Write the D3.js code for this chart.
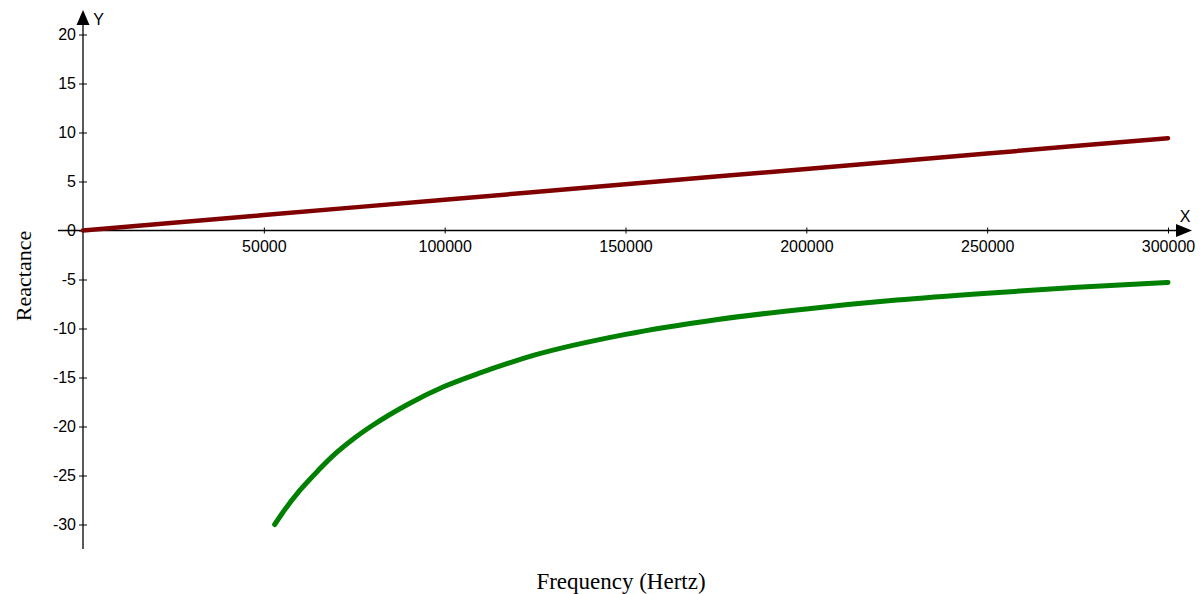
<!DOCTYPE html>
<html>
<head>
<meta charset="utf-8">
<script src="https://cdn.jsdelivr.net/npm/d3@7/dist/d3.min.js"></script>
<style>
  html, body { margin: 0; padding: 0; background: #fff; }
  svg { display: block; }
</style>
</head>
<body>
<svg id="chart" width="1200" height="594"></svg>
<script>
// ---- data ----
const inductiveFreq = [0, 25000, 50000, 75000, 100000, 125000, 150000, 175000, 200000, 225000, 250000, 275000, 300000];
const inductiveReact = [0, 0.79, 1.57, 2.36, 3.14, 3.93, 4.71, 5.50, 6.28, 7.07, 7.85, 8.64, 9.42];

const capacitiveFreq = [53000, 55000, 60000, 65000, 70000, 75000, 80000, 90000, 100000, 110000, 125000, 150000, 175000, 200000, 225000, 250000, 275000, 300000];
const capacitiveReact = [-30.0, -28.9, -26.5, -24.5, -22.7, -21.2, -19.9, -17.7, -15.9, -14.5, -12.7, -10.6, -9.1, -8.0, -7.1, -6.4, -5.8, -5.3];

const xTicks = [50000, 100000, 150000, 200000, 250000, 300000];
const yTicks = [20, 15, 10, 5, 0, -5, -10, -15, -20, -25, -30];

const xTitle = "Frequency (Hertz)";
const yTitle = "Reactance";

// ---- layout ----
const svg = d3.select("#chart");
const x = d3.scaleLinear().domain([0, 300000]).range([83, 1168]);
const y = d3.scaleLinear().domain([-30, 20]).range([524.5, 34.5]);
const x0 = x(0), y0 = y(0);

const axisFont = "'Liberation Sans', Arial, sans-serif";
const titleFont = "'Liberation Serif', 'Times New Roman', serif";
const plainFmt = d => String(d);

// X axis
const xAxisG = svg.append("g").attr("transform", `translate(0,${y0})`)
  .call(d3.axisBottom(x).tickValues(xTicks).tickSize(3).tickPadding(7).tickFormat(plainFmt));
xAxisG.select(".domain").remove();
xAxisG.selectAll(".tick line").attr("y1", -3).attr("y2", 3).attr("stroke", "#000");
xAxisG.selectAll(".tick text").style("font-family", axisFont).style("font-size", "16px").attr("fill", "#000");
svg.append("line").attr("x1", 58).attr("x2", 1178).attr("y1", y0).attr("y2", y0)
  .attr("stroke", "#000").attr("stroke-width", 1.3);
svg.append("path").attr("d", `M1192,${y0} L1176,${y0 - 6.5} L1176,${y0 + 6.5} Z`).attr("fill", "#000");
svg.append("text").attr("x", 1185).attr("y", y0 - 9).attr("text-anchor", "middle")
  .style("font-family", axisFont).style("font-size", "16px").text("X");

// Y axis
const yAxisG = svg.append("g").attr("transform", `translate(${x0},0)`)
  .call(d3.axisLeft(y).tickValues(yTicks).tickSize(4).tickPadding(3).tickFormat(plainFmt));
yAxisG.select(".domain").remove();
yAxisG.selectAll(".tick line").attr("x1", 4).attr("x2", -4).attr("stroke", "#000");
yAxisG.selectAll(".tick text").style("font-family", axisFont).style("font-size", "16px").attr("fill", "#000");
svg.append("line").attr("x1", x0).attr("x2", x0).attr("y1", 549).attr("y2", 24)
  .attr("stroke", "#000").attr("stroke-width", 1.3);
svg.append("path").attr("d", `M${x0},10 L${x0 - 6.5},25 L${x0 + 6.5},25 Z`).attr("fill", "#000");
svg.append("text").attr("x", 98.5).attr("y", 25).attr("text-anchor", "middle")
  .style("font-family", axisFont).style("font-size", "16px").text("Y");

// Titles
svg.append("text").attr("x", 621).attr("y", 589).attr("text-anchor", "middle")
  .style("font-family", titleFont).style("font-size", "23px").text(xTitle);
svg.append("text").attr("transform", "translate(31,276) rotate(-90)").attr("text-anchor", "middle")
  .style("font-family", titleFont).style("font-size", "22px").text(yTitle);

// Lines
const inductive = inductiveFreq.map((f, i) => [f, inductiveReact[i]]);
const capacitive = capacitiveFreq.map((f, i) => [f, capacitiveReact[i]]);

const lineL = d3.line().x(d => x(d[0])).y(d => y(d[1]));
const lineC = d3.line().x(d => x(d[0])).y(d => y(d[1])).curve(d3.curveMonotoneX);

svg.append("path").datum(inductive).attr("d", lineL)
  .attr("fill", "none").attr("stroke", "#800000").attr("stroke-width", 4.5)
  .attr("stroke-linecap", "round").attr("stroke-linejoin", "round");
svg.append("path").datum(capacitive).attr("d", lineC)
  .attr("fill", "none").attr("stroke", "#008000").attr("stroke-width", 5)
  .attr("stroke-linecap", "round").attr("stroke-linejoin", "round");
</script>
</body>
</html>
